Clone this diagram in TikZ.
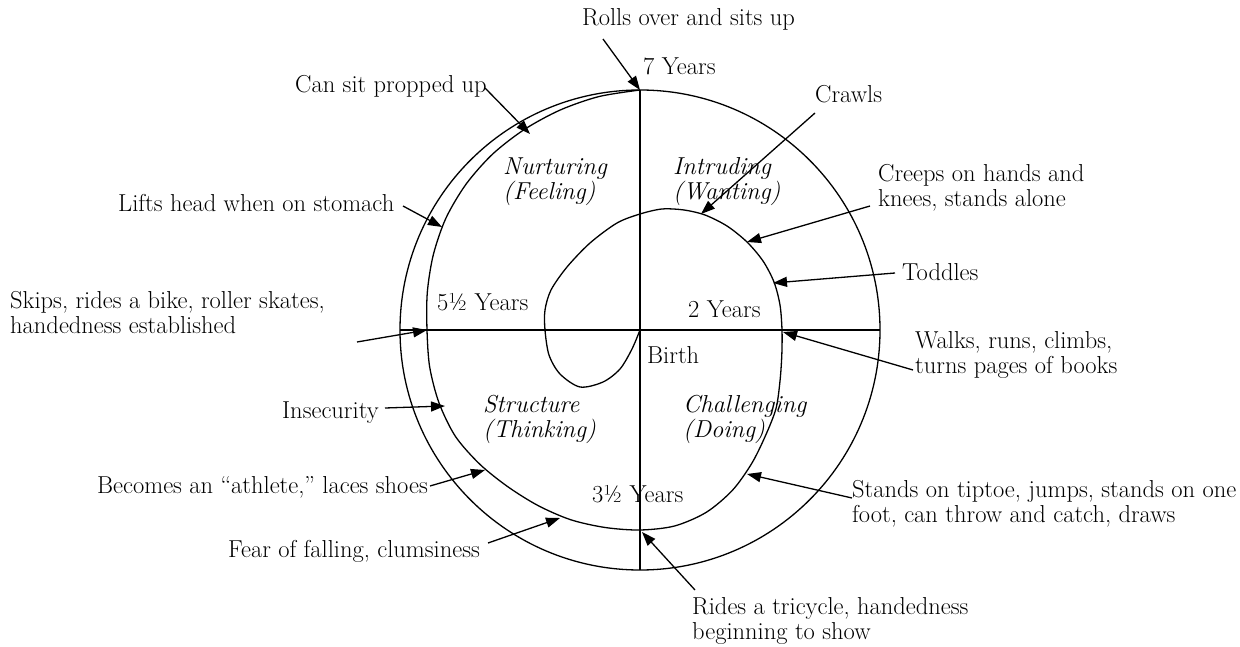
\documentclass[tikz,border=0pt]{standalone}
\usetikzlibrary{arrows.meta}
\begin{document}
\begin{tikzpicture}[x=1pt,y=-1pt,
  lbl/.style={inner sep=0pt,anchor=base west,align=left,font=\fontsize{24.5}{25}\selectfont},
  ilbl/.style={lbl,font=\fontsize{24.5}{25}\selectfont\itshape},
  ptr/.style={line width=1.3pt,-{Triangle[length=14pt,width=10pt]}},
  ln/.style={line width=1.3pt}]
\useasboundingbox (0,0) rectangle (1240,647);
% frame
\node[circle,draw,line width=1.3pt,minimum size=480pt,inner sep=0pt] (outer) at (640,330) {};
\coordinate (top) at (640,90);
\coordinate (bot) at (640,570);
\coordinate (lft) at (400,330);
\coordinate (rgt) at (880,330);
\coordinate (ctr) at (640,330);
\draw[ln] (top) -- (bot);
\draw[ln] (lft) -- (rgt);
% spiral
\draw[ln,line join=round] plot[smooth,tension=0.5] coordinates {
 (640,90) (598.8,96.6) (560.0,110.1) (524.3,129.5) (492.5,154.2) (466.1,184.1)
 (446.0,218.0) (433.3,254.8) (427.3,292.5) (427,330)
 (429.7,367.1) (439.1,403.1) (455.5,436.5) (479.9,464.3) (508.2,487.0)
 (538.5,505.8) (570.9,519.8) (605.2,527.5) (640,530)
 (674.5,526.0) (706.3,512.3) (732.5,490.2) (751.8,463.3) (765.6,435.4)
 (776.0,408.5) (780.0,381.0) (781.8,355.0) (782,330)
 (780,305) (774,282) (763,261) (747,242) (727,226) (705,215) (684,210) (662,209) (640,214)
 (617,223) (590,243) (567,267) (551,290) (545,310) (545,330) (549,355) (560,374)
 (580,387) (603,382) (620,369) (632,349) (640,330)};
% quadrant labels
\node[ilbl] (nur) at (503,200) {Nurturing\\(Feeling)};
\node[ilbl] (int) at (673,200) {Intruding\\(Wanting)};
\node[ilbl] (str) at (483,437) {Structure\\(Thinking)};
\node[ilbl] (cha) at (683,437) {Challenging\\(Doing)};
% age labels
\node[lbl] (y7) at (643,75) {7 Years};
\node[lbl] (y55) at (437,310) {5½ Years};
\node[lbl] (y2) at (688,317) {2 Years};
\node[lbl] (birth) at (647,363) {Birth};
\node[lbl] (y35) at (592,502) {3½ Years};
% milestone labels
\node[lbl] (rolls) at (582,26) {Rolls over and sits up};
\node[lbl] (sit) at (295,93) {Can sit propped up};
\node[lbl] (crawl) at (815,103) {Crawls};
\node[lbl] (creep) at (878,207) {Creeps on hands and\\knees, stands alone};
\node[lbl] (lifts) at (118,212) {Lifts head when on stomach};
\node[lbl] (toddle) at (902,280) {Toddles};
\node[lbl] (skips) at (10,333) {Skips, rides a bike, roller skates,\\handedness established};
\node[lbl] (walks) at (915,373) {Walks, runs, climbs,\\turns pages of books};
\node[lbl] (insec) at (282,418) {Insecurity};
\node[lbl] (athl) at (97,493) {Becomes an ``athlete,'' laces shoes};
\node[lbl] (tiptoe) at (852,522) {Stands on tiptoe, jumps, stands on one\\foot, can throw and catch, draws};
\node[lbl] (fear) at (228,557) {Fear of falling, clumsiness};
\node[lbl] (rides) at (692,639) {Rides a tricycle, handedness\\beginning to show};
% arrow end points
\coordinate (s1) at (603,39);  \coordinate (t1) at (640,90);
\coordinate (s2) at (485,88);  \coordinate (t2) at (530,134);
\coordinate (s3) at (815,113); \coordinate (t3) at (701,214);
\coordinate (s4) at (870,206); \coordinate (t4) at (747,242);
\coordinate (s5) at (403,206); \coordinate (t5) at (442,227);
\coordinate (s6) at (895,273); \coordinate (t6) at (773,283);
\coordinate (s7) at (357,342); \coordinate (t7) at (427,330);
\coordinate (s8) at (913,370); \coordinate (t8) at (783,332);
\coordinate (s9) at (385,408); \coordinate (t9) at (445,406);
\coordinate (s10) at (430,486); \coordinate (t10) at (485,470);
\coordinate (s11) at (852,498); \coordinate (t11) at (747,474);
\coordinate (s12) at (488,543); \coordinate (t12) at (560,518);
\coordinate (s13) at (695,590); \coordinate (t13) at (642,532);
\foreach \i in {1,...,13} {\draw[ptr] (s\i) -- (t\i);}
\end{tikzpicture}
\end{document}
